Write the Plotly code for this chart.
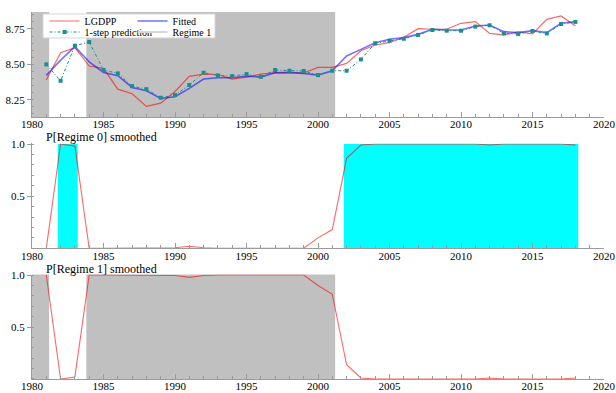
import plotly.graph_objects as go

# ---------------- data ----------------
years = list(range(1981, 2019))

lgdpp = [8.389, 8.582, 8.618, 8.488, 8.472, 8.325, 8.292, 8.203, 8.226, 8.308,
         8.415, 8.431, 8.428, 8.396, 8.410, 8.431, 8.441, 8.441, 8.439, 8.478,
         8.479, 8.507, 8.596, 8.637, 8.653, 8.691, 8.752, 8.748, 8.748, 8.790,
         8.802, 8.719, 8.708, 8.729, 8.715, 8.818, 8.842, 8.771]

fitted = [8.422, 8.530, 8.625, 8.518, 8.443, 8.420, 8.337, 8.313, 8.259, 8.271,
          8.330, 8.396, 8.405, 8.405, 8.417, 8.410, 8.441, 8.443, 8.436, 8.424,
          8.455, 8.559, 8.606, 8.653, 8.677, 8.689, 8.712, 8.748, 8.743, 8.743,
          8.771, 8.778, 8.731, 8.724, 8.738, 8.724, 8.790, 8.802]

one_step = [8.500, 8.384, 8.632, 8.658, 8.460, 8.436, 8.346, 8.325, 8.264, 8.283,
            8.354, 8.441, 8.422, 8.417, 8.431, 8.412, 8.460, 8.455, 8.453, 8.424,
            8.455, 8.455, 8.535, 8.649, 8.667, 8.681, 8.708, 8.743, 8.738, 8.738,
            8.767, 8.776, 8.719, 8.715, 8.736, 8.719, 8.785, 8.800]

p_regime0 = [0.0, 1.0, 0.98, 0.0, 0.0, 0.0, 0.0, 0.0, 0.0, 0.005,
             0.02, 0.005, 0.0, 0.0, 0.0, 0.0, 0.0, 0.0, 0.0, 0.10,
             0.18, 0.863, 0.99, 1.0, 1.0, 1.0, 1.0, 1.0, 1.0, 1.0,
             1.0, 0.99, 1.0, 1.0, 1.0, 1.0, 1.0, 0.99]

p_regime1 = [1.0, 0.0, 0.02, 1.0, 1.0, 1.0, 1.0, 1.0, 1.0, 0.995,
             0.978, 0.995, 1.0, 1.0, 1.0, 1.0, 1.0, 1.0, 1.0, 0.90,
             0.815, 0.137, 0.01, 0.0, 0.0, 0.0, 0.0, 0.0, 0.0, 0.0,
             0.0, 0.01, 0.0, 0.0, 0.0, 0.0, 0.0, 0.01]

# classified regime per year
regime = [1, 0, 0, 1, 1, 1, 1, 1, 1, 1,
          1, 1, 1, 1, 1, 1, 1, 1, 1, 1,
          1, 0, 0, 0, 0, 0, 0, 0, 0, 0,
          0, 0, 0, 0, 0, 0, 0, 0]

x_ticks = [1980, 1985, 1990, 1995, 2000, 2005, 2010, 2015, 2020]
y1_ticks = [8.25, 8.50, 8.75]
y1_labels = ["8.25", "8.50", "8.75"]
p_ticks = [0.5, 1.0]
p_labels = ["0.5", "1.0"]

# ---------------- styling ----------------
FONT = "Liberation Serif"
RED = "rgba(255,0,0,0.6)"
BLUE = "rgba(0,0,255,0.55)"
TEAL = "#1a8f8f"
GRAY = "#c0c0c0"
CYAN = "#00ffff"
AX = "#9a9a9a"
X_MIN, X_MAX = 1980, 2020
HALF = 0.2


def regime_spans(code):
    spans = []
    start = None
    for i, r in enumerate(regime):
        if r == code and start is None:
            start = i
        if start is not None and (i == len(regime) - 1 or regime[i + 1] != code):
            if r == code:
                x0 = X_MIN if start == 0 else years[start] - HALF
                spans.append((x0, years[i] + HALF))
                start = None
    return spans


fig = go.Figure()

# panel 1
fig.add_trace(go.Scatter(x=years, y=lgdpp, mode="lines", name="LGDPP",
                         line=dict(color=RED, width=1.2), xaxis="x", yaxis="y",
                         legend="legend"))
fig.add_trace(go.Scatter(x=years, y=fitted, mode="lines", name="Fitted",
                         line=dict(color=BLUE, width=1.6), xaxis="x", yaxis="y",
                         legend="legend"))
fig.add_trace(go.Scatter(x=years, y=one_step, mode="lines+markers",
                         name="1-step prediction",
                         line=dict(color=TEAL, width=1, dash="3px,2px,1px,2px"),
                         marker=dict(symbol="square", size=4, color=TEAL),
                         xaxis="x", yaxis="y", legend="legend2"))
fig.add_trace(go.Scatter(x=[None], y=[None], mode="lines", name="Regime 1",
                         line=dict(color="#d6d6d6", width=2), xaxis="x", yaxis="y",
                         legend="legend2"))

# panel 2 & 3
fig.add_trace(go.Scatter(x=years, y=p_regime0, mode="lines", showlegend=False,
                         line=dict(color=RED, width=1.1), xaxis="x2", yaxis="y2"))
fig.add_trace(go.Scatter(x=years, y=p_regime1, mode="lines", showlegend=False,
                         line=dict(color=RED, width=1.1), xaxis="x3", yaxis="y3"))

shapes = []
for x0, x1 in regime_spans(1):
    for xr, yr in (("x", "y domain"), ("x3", "y3 domain")):
        shapes.append(dict(type="rect", xref=xr, yref=yr, x0=x0, x1=x1, y0=0, y1=1,
                           fillcolor=GRAY, line=dict(width=0), layer="below"))
for x0, x1 in regime_spans(0):
    shapes.append(dict(type="rect", xref="x2", yref="y2", x0=x0, x1=x1, y0=0, y1=1,
                       fillcolor=CYAN, line=dict(width=0), layer="below"))

# legend backdrop
shapes.append(dict(type="rect", xref="paper", yref="paper",
                   x0=0.0192, x1=0.32, y0=0.9292, y1=0.9946,
                   fillcolor="white", line=dict(color="#d4d4d4", width=1),
                   layer="above"))


def xaxis(anchor):
    return dict(domain=[0, 1], anchor=anchor, range=[X_MIN, X_MAX],
                showgrid=False, zeroline=False, showline=True, linecolor=AX,
                linewidth=1, ticks="inside", ticklen=5, tickcolor=AX,
                tickvals=x_ticks, tickfont=dict(family=FONT, size=11, color="black"),
                ticklabelstandoff=-3,
                minor=dict(dtick=1, ticks="inside", ticklen=3, tickcolor=AX),
                automargin=False, fixedrange=True)


def yaxis(anchor, domain, rng, tv, tt, minor_dt):
    return dict(domain=domain, anchor=anchor, range=rng, showgrid=False,
                zeroline=False, showline=True, linecolor=AX, linewidth=1,
                ticks="outside", ticklen=4, tickcolor=AX, tickvals=tv, ticktext=tt,
                tickfont=dict(family=FONT, size=11, color="black"),
                minor=dict(dtick=minor_dt, tick0=0, ticks="inside", ticklen=2,
                           tickcolor=AX),
                automargin=False, fixedrange=True)


legend_common = dict(orientation="h", xanchor="left", yanchor="middle",
                     bgcolor="rgba(0,0,0,0)", borderwidth=0,
                     font=dict(family=FONT, size=10, color="black"),
                     entrywidth=43, entrywidthmode="pixels", itemwidth=30)

fig.update_layout(
    width=616, height=393,
    margin=dict(l=32, r=12, t=12, b=14, autoexpand=False),
    paper_bgcolor="white", plot_bgcolor="white",
    font=dict(family=FONT, size=11, color="black"),
    xaxis=xaxis("y"), xaxis2=xaxis("y2"), xaxis3=xaxis("y3"),
    yaxis=yaxis("x", [0.7139, 1.0], [8.128, 8.870], y1_ticks, y1_labels, 0.05),
    yaxis2=yaxis("x2", [0.3561, 0.6417], [0, 1.005], p_ticks, p_labels, 0.1),
    yaxis3=yaxis("x3", [0.0, 0.2847], [0, 1.005], p_ticks, p_labels, 0.1),
    shapes=shapes,
    legend=dict(x=0.022, y=0.9755, **legend_common),
    legend2=dict(x=0.022, y=0.9455, **legend_common),
    annotations=[
        dict(text="P[Regime 0] smoothed", xref="paper", yref="paper",
             x=0.021, y=0.6590, xanchor="left", yanchor="middle", showarrow=False,
             font=dict(family=FONT, size=12, color="black")),
        dict(text="P[Regime 1] smoothed", xref="paper", yref="paper",
             x=0.021, y=0.2985, xanchor="left", yanchor="middle", showarrow=False,
             font=dict(family=FONT, size=12, color="black")),
    ],
)

fig.write_html("out.html", config={"displayModeBar": False},
               post_script="document.body.style.margin='0px';")
